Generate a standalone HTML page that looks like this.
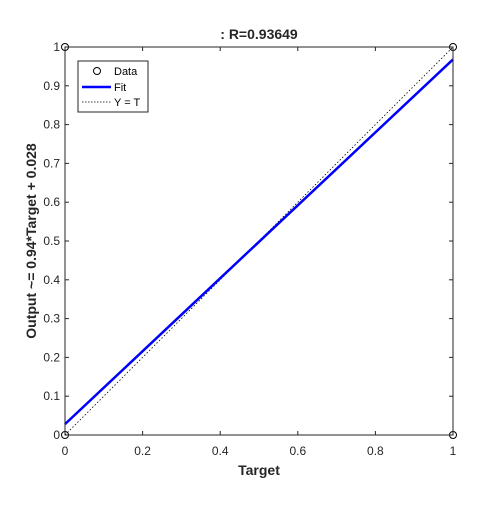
<!DOCTYPE html>
<html><head><meta charset="utf-8"><style>
body{margin:0;background:#fff;}
svg text{font-family:"Liberation Sans",Arial,sans-serif;}
</style></head><body>
<svg id="chart" width="500" height="500" xmlns="http://www.w3.org/2000/svg">
<rect width="500" height="500" fill="#fff"/>
<text x="259" y="39" font-size="14" font-weight="bold" text-anchor="middle" fill="#262626">: R=0.93649</text>
<text x="259" y="475" font-size="14" font-weight="bold" text-anchor="middle" fill="#262626">Target</text>
<text transform="translate(36,241) rotate(-90)" font-size="14" font-weight="bold" text-anchor="middle" fill="#262626">Output ~= 0.94*Target + 0.028</text>
<g id="ticks"></g>
<g id="marks"></g>
<rect x="65" y="47" width="388" height="388" fill="none" stroke="#262626" stroke-width="1"/>
<g>
<rect x="78" y="61" width="70" height="51" fill="#fff" stroke="#262626" stroke-width="1"/>
<circle cx="97" cy="71" r="3.5" fill="none" stroke="#000"/>
<text x="114" y="75" font-size="11" fill="#000">Data</text>
<line x1="82" y1="87" x2="111" y2="87" stroke="#0000ff" stroke-width="2.5"/>
<text x="114" y="91" font-size="11" fill="#000">Fit</text>
<line x1="82" y1="102" x2="111" y2="102" stroke="#000" stroke-width="0.8" stroke-dasharray="1.5,1.5"/>
<text x="114" y="106" font-size="11" fill="#000">Y = T</text>
</g>
</svg>
<script>
const xTicks=[0,0.2,0.4,0.6,0.8,1];
const yTicks=[0,0.1,0.2,0.3,0.4,0.5,0.6,0.7,0.8,0.9,1];
const dataX=[0,0,1,1];
const dataY=[0,1,0,1];
const fitSlope=[0.94];
const fitIntercept=[0.028];
const NS="http://www.w3.org/2000/svg";
const X=v=>65+v*388, Y=v=>435-v*388;
function mk(t,a,p){const e=document.createElementNS(NS,t);for(const k in a)e.setAttribute(k,a[k]);p.appendChild(e);return e;}
const tg=document.getElementById('ticks'), mg=document.getElementById('marks');
xTicks.forEach(v=>{
 mk('line',{x1:X(v),x2:X(v),y1:435,y2:431,stroke:'#262626'},tg);
 mk('line',{x1:X(v),x2:X(v),y1:47,y2:51,stroke:'#262626'},tg);
 const t=mk('text',{x:X(v),y:455,'font-size':12,'text-anchor':'middle',fill:'#262626'},tg);t.textContent=String(v);
 
 
});
yTicks.forEach(v=>{
 mk('line',{x1:65,x2:69,y1:Y(v),y2:Y(v),stroke:'#262626'},tg);
 mk('line',{x1:453,x2:449,y1:Y(v),y2:Y(v),stroke:'#262626'},tg);
 const t=mk('text',{x:60,y:Y(v)+4,'font-size':12,'text-anchor':'end',fill:'#262626'},tg);t.textContent=String(v);
 
 
});
const yt=mk('line',{x1:X(0),y1:Y(0),x2:X(1),y2:Y(1),stroke:'#000','stroke-width':0.8,'stroke-dasharray':'1.5,2'},mg);


const fl=mk('line',{x1:X(0),y1:Y(fitIntercept[0]),x2:X(1),y2:Y(fitSlope[0]+fitIntercept[0]),stroke:'#0000ff','stroke-width':2.5},mg);


dataX.forEach((x,i)=>{
 const c=mk('circle',{cx:X(x),cy:Y(dataY[i]),r:3.5,fill:'none',stroke:'#000'},mg);
 
 
});
</script>
</body></html>
